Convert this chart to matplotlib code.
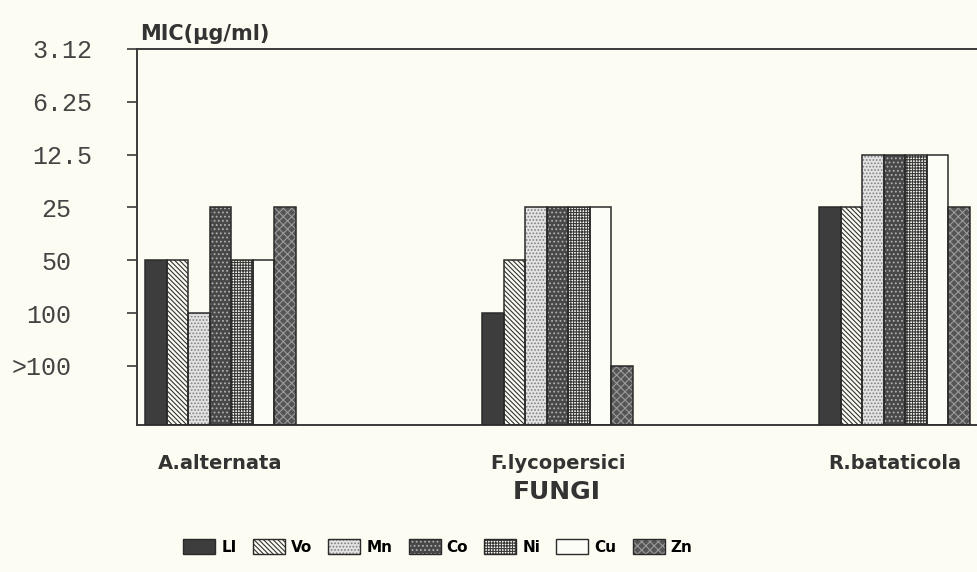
import matplotlib
matplotlib.use("Agg")
import matplotlib.pyplot as plt
from matplotlib.patches import Patch

# ---------- dados ----------
fungos = ["A.alternata", "F.lycopersici", "R.bataticola"]
metais = ["Li", "Vo", "Mn", "Co", "Ni", "Cu", "Zn"]
legenda_txt = ["LI", "Vo", "Mn", "Co", "Ni", "Cu", "Zn"]
# escala de MIC (de baixo para cima no eixo)
niveis = [">100", "100", "50", "25", "12.5", "6.25", "3.12"]

mic_li = ["50", "100", "25"]
mic_vo = ["50", "50", "25"]
mic_mn = ["100", "25", "12.5"]
mic_co = ["25", "25", "12.5"]
mic_ni = ["50", "25", "12.5"]
mic_cu = ["50", "25", "12.5"]
mic_zn = ["25", ">100", "25"]
series = [mic_li, mic_vo, mic_mn, mic_co, mic_ni, mic_cu, mic_zn]

# ---------- estilos ----------
fundo = "#fcfcf2"
estilos = [
    dict(face="#3d3d3d", hatch=None, hc="#3d3d3d"),
    dict(face="#fbfbf3", hatch="\\\\\\\\\\\\\\", hc="#333333"),
    dict(face="#e2e2e2", hatch=".....", hc="#808080"),
    dict(face="#484848", hatch="....", hc="#b0b0b0"),
    dict(face="#fbfbf3", hatch="++++++", hc="#3a3a3a"),
    dict(face="#fdfdf7", hatch=None, hc="#fdfdf7"),
    dict(face="#555555", hatch="xxxx", hc="#9a9a9a"),
]
plt.rcParams["hatch.linewidth"] = 0.8

base = -1.12
largura = 0.064

fig = plt.figure(figsize=(9.77, 5.72), dpi=100, facecolor=fundo)
ax = fig.add_axes([137 / 977, 1 - 425 / 572, 1 - 137 / 977, (425 - 49) / 572])
ax.set_facecolor(fundo)

handles = []
for j, (vals, st) in enumerate(zip(series, estilos)):
    xs = [i + (j - 3) * largura for i in range(len(fungos))]
    alturas = [niveis.index(v) - base for v in vals]
    ax.bar(xs, alturas, width=largura, bottom=base, color=st["face"],
           hatch=st["hatch"], edgecolor=st["hc"], linewidth=0, zorder=2)
    ax.bar(xs, alturas, width=largura, bottom=base, fill=False,
           edgecolor="#2a2a2a", linewidth=1.1, zorder=3)
    handles.append((Patch(facecolor=st["face"], hatch=st["hatch"], edgecolor=st["hc"], linewidth=0),
                    Patch(fill=False, edgecolor="#2a2a2a", linewidth=1.0)))

ax.set_xlim(-0.248, 2.245)
ax.set_ylim(base, 6)

for s in ["left", "bottom", "top"]:
    ax.spines[s].set_color("#3a3a3a")
    ax.spines[s].set_linewidth(1.4)
ax.spines["right"].set_visible(False)

# eixo y com os rótulos da escala
ax.set_yticks(range(len(niveis)))
ax.set_yticklabels(niveis, fontfamily="Liberation Mono", fontsize=18, color="#444444")
ax.tick_params(axis="y", length=7, width=1.2, color="#3a3a3a")
for k, t in enumerate(ax.yaxis.get_major_ticks()):
    t.set_pad(25 if "." in niveis[k] else 40)

# eixo x
ax.set_xticks(range(len(fungos)))
ax.set_xticklabels(fungos, fontfamily="DejaVu Sans", fontweight="bold", fontsize=14, color="#333333")
ax.tick_params(axis="x", length=0, pad=21)
ax.set_xlabel("FUNGI", fontfamily="DejaVu Sans", fontweight="bold", fontsize=18,
              color="#333333", labelpad=5)

fig.text(140 / 977, 1 - 40 / 572, "MIC(µg/ml)", fontfamily="DejaVu Sans", fontweight="bold",
         fontsize=15, color="#333333", va="baseline", ha="left")

fig.legend(handles, legenda_txt, loc="center", bbox_to_anchor=(438 / 977, 1 - 547 / 572),
           ncol=7, frameon=False, handlelength=2.1, handleheight=1.05, handletextpad=0.4,
           columnspacing=1.05, prop=dict(family="DejaVu Sans", weight="bold", size=11))

fig.savefig("out.png", dpi=100, facecolor=fundo)
